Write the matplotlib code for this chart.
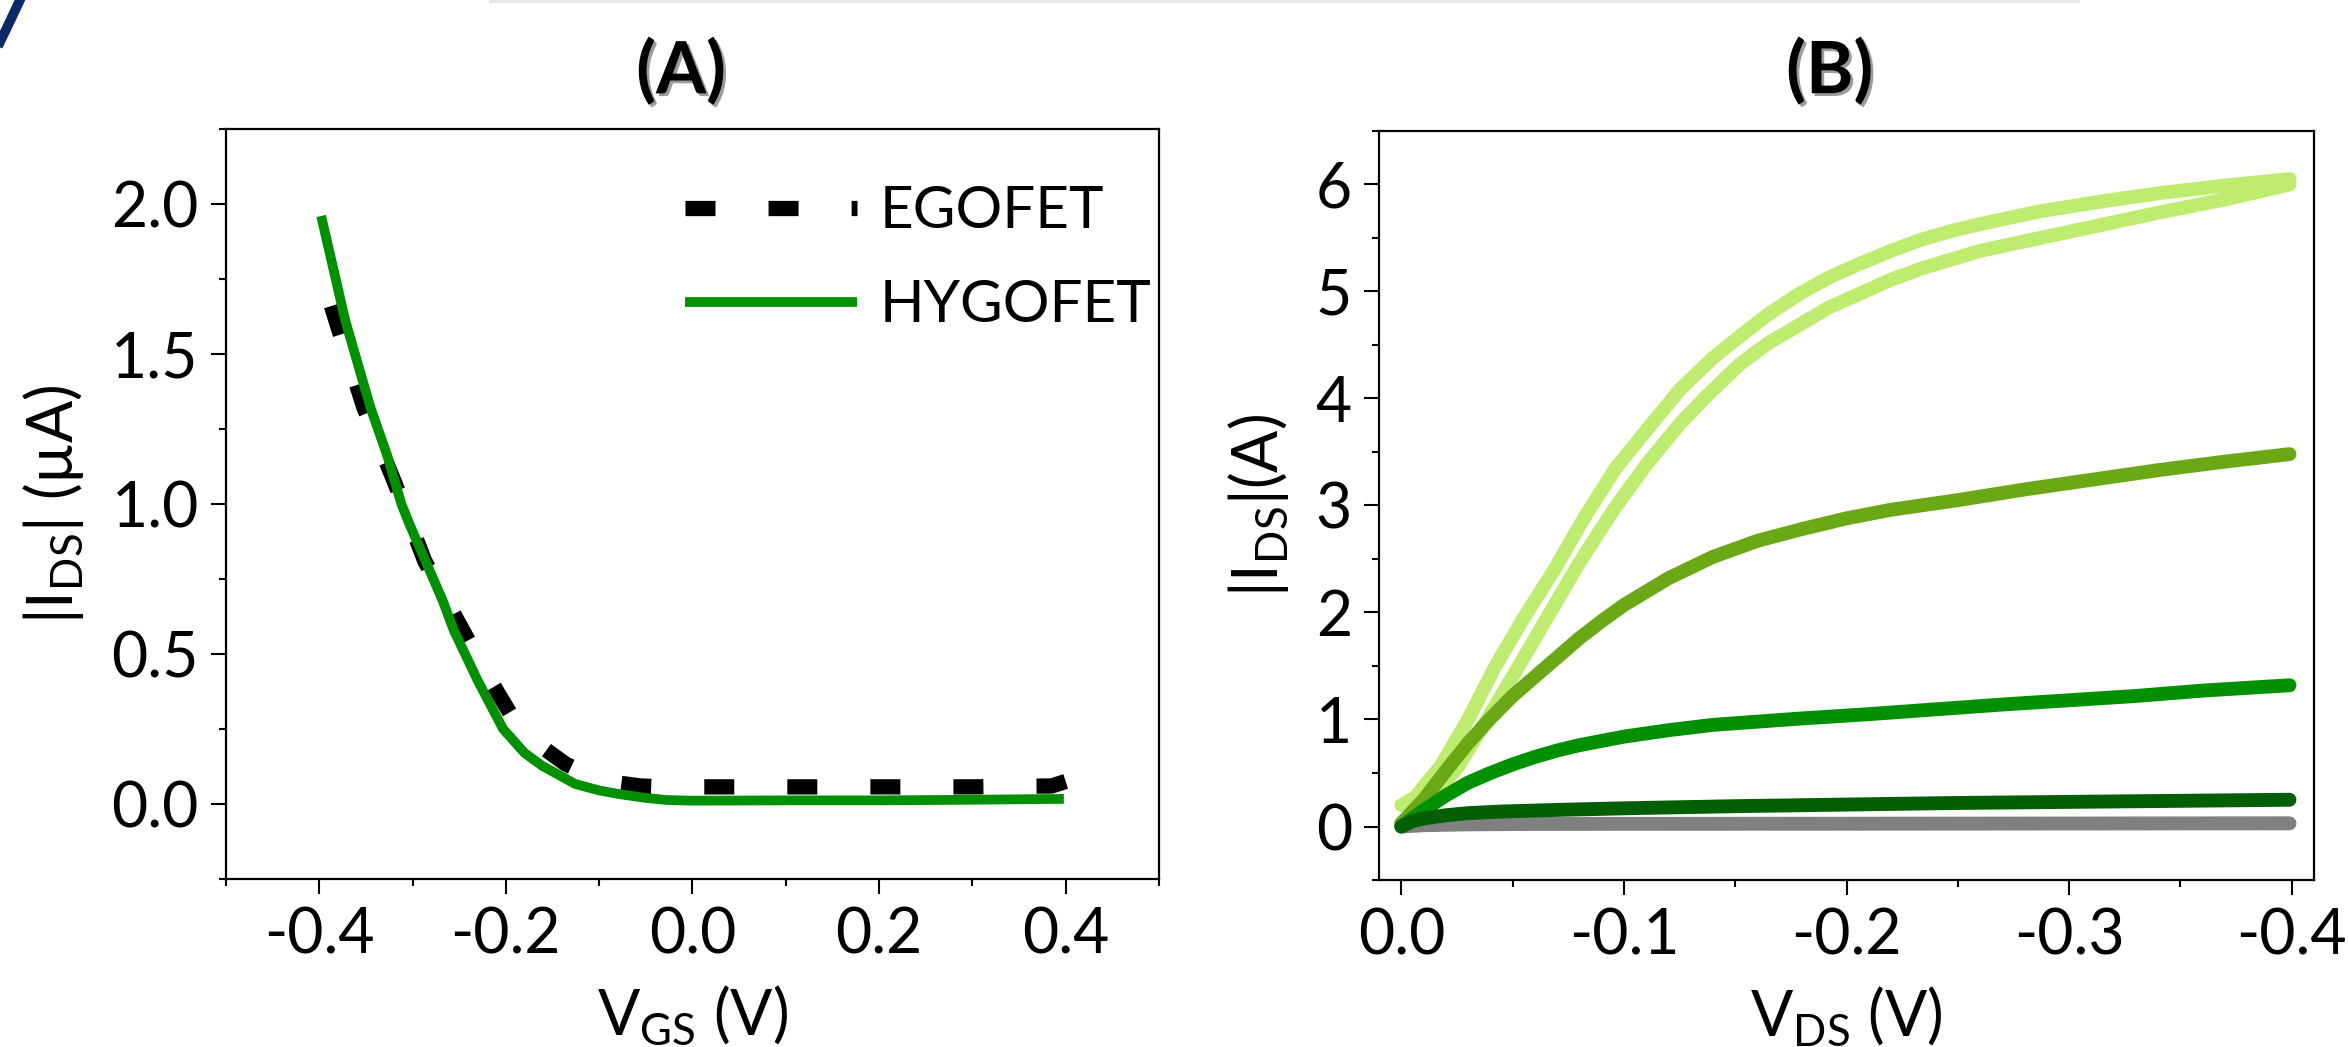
import numpy as np
import matplotlib
matplotlib.use('Agg')
import matplotlib.pyplot as plt
from matplotlib.ticker import MultipleLocator, FormatStrFormatter
import matplotlib.patheffects as pe
from matplotlib.lines import Line2D

# ---- panel A : transfer curves ----
vgs_ego = [-0.387, -0.381, -0.352, -0.319, -0.287, -0.264, -0.242, -0.22, -0.196, -0.17,
           -0.136, -0.11, -0.08, -0.056, -0.03, 0.0, 0.1, 0.2, 0.3, 0.385, 0.40]
ids_ego = [1.66, 1.60, 1.32, 1.07, 0.81, 0.68, 0.555, 0.43, 0.305, 0.21,
           0.133, 0.095, 0.07, 0.06, 0.057, 0.057, 0.057, 0.057, 0.057, 0.06, 0.075]

vgs_hygo = [-0.398, -0.372, -0.345, -0.327, -0.312, -0.303, -0.268, -0.256, -0.23, -0.203,
            -0.18, -0.161, -0.126, -0.10, -0.079, -0.05, -0.027, 0.0, 0.1, 0.2, 0.3, 0.398]
ids_hygo = [1.96, 1.61, 1.32, 1.16, 1.00, 0.93, 0.68, 0.58, 0.41, 0.25,
            0.17, 0.127, 0.067, 0.045, 0.033, 0.02, 0.013, 0.011, 0.012, 0.012, 0.014, 0.017]

# ---- panel B : output curves ----
# lightest curve has a forward and a backward sweep
vds_light_fwd = [0.0, -0.006, -0.0175, -0.030, -0.042, -0.055, -0.069, -0.082, -0.096, -0.110,
                 -0.125, -0.140, -0.152, -0.165, -0.179, -0.192, -0.206, -0.220, -0.233, -0.246,
                 -0.260, -0.287, -0.314, -0.341, -0.370, -0.399]
ids_light_fwd = [0.20, 0.27, 0.56, 1.00, 1.49, 1.95, 2.41, 2.88, 3.34, 3.70,
                 4.08, 4.38, 4.58, 4.79, 4.98, 5.13, 5.26, 5.38, 5.48, 5.56,
                 5.63, 5.75, 5.84, 5.92, 5.99, 6.05]
vds_light_back = [-0.399, -0.370, -0.341, -0.314, -0.287, -0.260, -0.233, -0.220, -0.206, -0.192,
                  -0.179, -0.165, -0.152, -0.137, -0.125, -0.110, -0.095, -0.0795, -0.066,
                  -0.0525, -0.039, -0.0256, -0.012, 0.0]
ids_light_back = [6.00, 5.86, 5.74, 5.62, 5.50, 5.38, 5.21, 5.11, 4.98, 4.85,
                  4.69, 4.52, 4.32, 4.02, 3.76, 3.38, 2.95, 2.45, 1.97,
                  1.49, 1.02, 0.56, 0.22, 0.03]

vds_olive = [0.0, -0.01, -0.02, -0.03, -0.04, -0.05, -0.06, -0.07, -0.08, -0.09, -0.10, -0.12,
             -0.14, -0.16, -0.18, -0.20, -0.22, -0.25, -0.28, -0.31, -0.34, -0.37, -0.399]
ids_olive = [0.03, 0.25, 0.52, 0.78, 1.01, 1.22, 1.40, 1.58, 1.76, 1.92, 2.07, 2.32,
             2.52, 2.67, 2.78, 2.88, 2.96, 3.05, 3.15, 3.24, 3.33, 3.41, 3.48]

vds_green = [0.0, -0.01, -0.02, -0.03, -0.04, -0.05, -0.06, -0.07, -0.08, -0.09, -0.10, -0.12,
             -0.14, -0.16, -0.18, -0.21, -0.24, -0.27, -0.30, -0.33, -0.36, -0.399]
ids_green = [0.0, 0.15, 0.29, 0.41, 0.50, 0.58, 0.65, 0.71, 0.76, 0.80, 0.84, 0.90,
             0.95, 0.98, 1.01, 1.05, 1.095, 1.14, 1.18, 1.22, 1.27, 1.32]

vds_dark = [0.0, -0.005, -0.01, -0.02, -0.03, -0.045, -0.07, -0.10, -0.15, -0.20, -0.25,
            -0.30, -0.35, -0.399]
ids_dark = [0.0, 0.05, 0.075, 0.105, 0.125, 0.14, 0.155, 0.17, 0.19, 0.205, 0.22,
            0.23, 0.24, 0.25]

vds_gray = [0.0, -0.01, -0.03, -0.06, -0.1, -0.2, -0.3, -0.399]
ids_gray = [0.0, 0.012, 0.02, 0.024, 0.025, 0.026, 0.028, 0.03]

# fonts / general look
plt.rcParams['font.family'] = ['Lato', 'DejaVu Sans']
plt.rcParams['font.size'] = 45
plt.rcParams['axes.unicode_minus'] = False
plt.rcParams['mathtext.fontset'] = 'custom'
plt.rcParams['mathtext.rm'] = 'Lato'
plt.rcParams['lines.scale_dashes'] = False

fig = plt.figure(figsize=(23.49, 10.47), dpi=100)
axA = fig.add_axes([0.0962, 0.1605, 0.3972, 0.7163])
axB = fig.add_axes([0.5871, 0.1595, 0.3980, 0.7154])

# panel A
axA.plot(vgs_ego, ids_ego, color='black', lw=11, dashes=(21.6, 38.2), label='EGOFET')
axA.plot(vgs_hygo, ids_hygo, color='#009000', lw=7, solid_capstyle='butt', label='HYGOFET')
axA.set_xlim(-0.5, 0.5)
axA.set_ylim(-0.25, 2.25)
axA.xaxis.set_major_locator(MultipleLocator(0.2))
axA.xaxis.set_minor_locator(MultipleLocator(0.1))
axA.yaxis.set_major_locator(MultipleLocator(0.5))
axA.yaxis.set_minor_locator(MultipleLocator(0.25))
axA.xaxis.set_major_formatter(FormatStrFormatter('%.1f'))
axA.yaxis.set_major_formatter(FormatStrFormatter('%.1f'))
axA.set_xlabel(r'V$_\mathregular{GS}$ (V)', labelpad=14)
axA.set_ylabel(r'|I$_\mathregular{DS}$| (µA)', labelpad=18)
axA.legend(loc='upper left', bbox_to_anchor=(0.492, 0.925), frameon=False, fontsize=42,
           handlelength=2.95, handletextpad=0.38, labelspacing=0.7, borderpad=0,
           borderaxespad=0)

# panel B
axB.plot(vds_gray, ids_gray, color='#808080', lw=10, solid_capstyle='round')
axB.plot(vds_light_fwd + vds_light_back, ids_light_fwd + ids_light_back, color='#bdec6f',
         lw=10, solid_capstyle='round', solid_joinstyle='round')
axB.plot(vds_olive, ids_olive, color='#6ba816', lw=10, solid_capstyle='round')
axB.plot(vds_green, ids_green, color='#009000', lw=10, solid_capstyle='round')
axB.plot(vds_dark, ids_dark, color='#035f03', lw=10, solid_capstyle='round')
axB.set_xlim(0.01, -0.41)
axB.set_ylim(-0.5, 6.5)
axB.xaxis.set_major_locator(MultipleLocator(0.1))
axB.xaxis.set_minor_locator(MultipleLocator(0.05))
axB.yaxis.set_major_locator(MultipleLocator(1))
axB.yaxis.set_minor_locator(MultipleLocator(0.5))
axB.xaxis.set_major_formatter(FormatStrFormatter('%.1f'))
axB.yaxis.set_major_formatter(FormatStrFormatter('%d'))
axB.set_xlabel(r'V$_\mathregular{DS}$ (V)', labelpad=14)
axB.set_ylabel(r'|I$_\mathregular{DS}$|(A)', labelpad=18)

for ax in (axA, axB):
    for s in ax.spines.values():
        s.set_linewidth(1.6)
    ax.tick_params(which='major', length=10.5, width=1.5, direction='out', pad=9)
    ax.tick_params(which='minor', length=5, width=1.5, direction='out')

# panel titles with a little drop shadow
shadow = [pe.withSimplePatchShadow(offset=(2, -2), shadow_rgbFace='0.35', alpha=0.6)]
axA.text(0.4877, 1.076, '(A)', transform=axA.transAxes, ha='center', va='center',
         fontsize=52, fontweight='bold', path_effects=shadow)
axB.text(0.482, 1.079, '(B)', transform=axB.transAxes, ha='center', va='center',
         fontsize=52, fontweight='bold', path_effects=shadow)

# bits of the page border visible in the crop
fig.add_artist(Line2D([0, 0.0045, 0.0085], [1 - 42 / 1047, 1 - 20 / 1047, 1.0],
                      color='#0b2869', lw=7, transform=fig.transFigure))
fig.add_artist(Line2D([490 / 2349, 2078 / 2349], [0.999, 0.999], color='#e5e5e5',
                      lw=2, transform=fig.transFigure))

fig.savefig('out.png', dpi=100)
